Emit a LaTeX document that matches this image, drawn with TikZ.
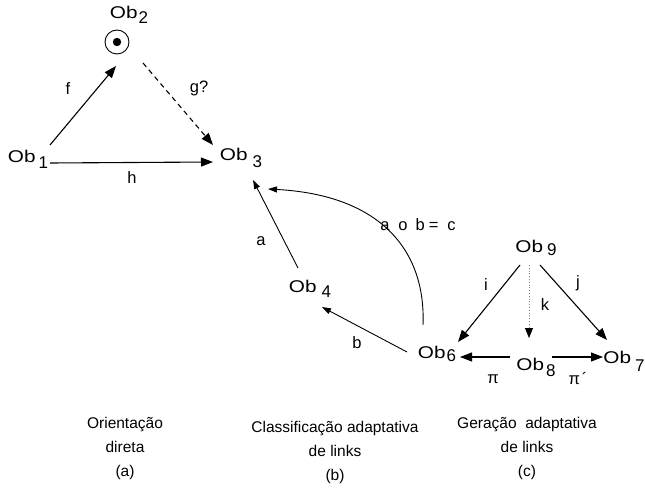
\documentclass[tikz,border=0pt]{standalone}
\usepackage{fontspec}
\setmainfont{Liberation Sans}
\usetikzlibrary{arrows.meta}
% object name: stretched "Ob" followed by a lowered index
\newcommand\obj[3]{{\fontsize{17}{19}\selectfont\scalebox{1.22}[1]{Ob}\kern#1\raisebox{-#2}{#3}}}
\begin{document}
\begin{tikzpicture}[x=1pt,y=-1pt,
  font=\fontsize{16.5}{19}\selectfont,
  obnode/.style={inner sep=0pt},
  lbl/.style={inner sep=0pt},
  big/.style={line width=1.1pt,-{Triangle[length=12pt,width=9pt]}},
  thin/.style={line width=0.9pt,-{Triangle[length=9pt,width=6pt]}},
  captext/.style={inner sep=0pt,align=center,font=\fontsize{15.5}{24}\selectfont}]
\useasboundingbox (0,0) rectangle (645,489);
\fill[white] (0,0) rectangle (645,489);

% (a) direct orientation
\node[obnode] (ob1) at (28,159) {\obj{3pt}{6pt}{1}};
\node[obnode] (ob2) at (129,15) {\obj{1pt}{5pt}{2}};
\node[draw,circle,line width=0.9pt,minimum size=24pt,inner sep=0pt] (c2) at (117,42) {};
\fill (c2.center) circle (4.2pt);
\node[obnode] (ob3) at (241,158) {\obj{5pt}{7pt}{3}};

\draw[big] ([shift={(22,-14)}]ob1.center) -- ([shift={(-1,24)}]c2.center);
\draw[big,dash pattern=on 5pt off 4pt] ([shift={(26,21)}]c2.center) -- ([shift={(-28,-13)}]ob3.center);
\draw[big] ([shift={(22,4)}]ob1.center) -- ([shift={(-28,4)}]ob3.center);
\node[lbl] (lf) at (68,89) {f};
\node[lbl] (lg) at (199,88) {g?};
\node[lbl] (lh) at (132,178) {h};

% (b) adaptive link classification
\node[obnode] (ob4) at (310,289) {\obj{5pt}{5pt}{4}};
\node[obnode] (ob6) at (437,354) {\obj{1pt}{3pt}{6}};
\draw[thin] ([shift={(-12,-21)}]ob4.center) -- ([shift={(12,22)}]ob3.center);
\draw[thin] ([shift={(-30,-2)}]ob6.center) -- ([shift={(12,18)}]ob4.center);
\draw[thin] ([shift={(-14,-29)}]ob6.center) .. controls (426,250) and (380,195) .. ([shift={(27,31)}]ob3.center);
\node[lbl] (la) at (261,241) {a};
\node[lbl] (lb) at (357,343) {b};
\node[lbl] (lc) at (418,225) {a\kern9pt o\kern8pt b\kern4pt=\kern9pt c};

% (c) adaptive link generation
\node[obnode] (ob9) at (536,248) {\obj{4pt}{3pt}{9}};
\node[obnode] (ob8) at (536,367) {\obj{2pt}{6pt}{8}};
\node[obnode] (ob7) at (624,361) {\obj{4pt}{8pt}{7}};
\draw[big] ([shift={(-16,17)}]ob9.center) -- ([shift={(21,-12)}]ob6.center);
\draw[line width=0.8pt,draw=gray,dotted,-{Triangle[length=10pt,width=8pt,fill=black,color=black]}] ([shift={(-7,17)}]ob9.center) -- ([shift={(-7,-29)}]ob8.center);
\draw[big] ([shift={(4,17)}]ob9.center) -- ([shift={(-17,-21)}]ob7.center);
\draw[big] ([shift={(-26,-10)}]ob8.center) -- ([shift={(23,3)}]ob6.center);
\draw[big] ([shift={(16,-10)}]ob8.center) -- ([shift={(-21,-4)}]ob7.center);
\node[lbl] (li) at (486,285) {i};
\node[lbl] (lk) at (545,305) {k};
\node[lbl] (lj) at (578,283) {j};
\node[lbl] (lpi) at (493,379) {π};
\node[lbl] (lpp) at (578,379) {π\kern2pt´};

% captions
\node[captext] (capa) at (125,448) {Orientação\\direta\\(a)};
\node[captext] (capb) at (335,452) {Classificação adaptativa\\de links\\(b)};
\node[captext] (capc) at (527,448) {Geração\ \ adaptativa\\de links\\(c)};
\end{tikzpicture}
\end{document}
